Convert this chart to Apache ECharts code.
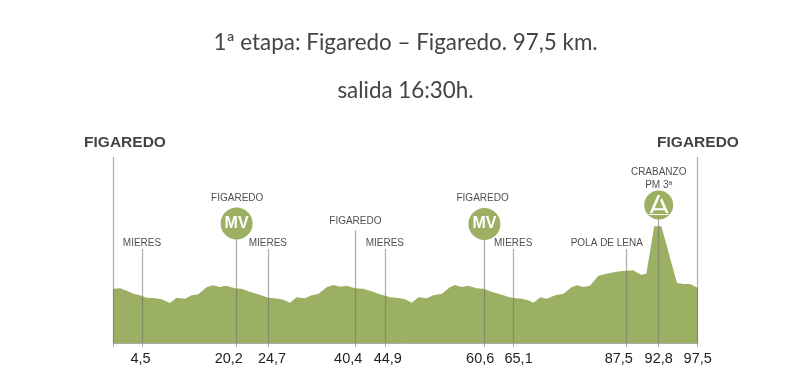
<!DOCTYPE html>
<html>
<head>
<meta charset="utf-8">
<script src="https://cdn.jsdelivr.net/npm/echarts@6/dist/echarts.min.js"></script>
<style>
  html, body { margin: 0; padding: 0; background: #fff; }
  #chart { width: 811px; height: 368px; }
</style>
</head>
<body>
<div id="chart"></div>
<script>
// perfil: distancia tal como esta dibujada y altura relativa (sin escala en el original)
const profileKm = [0, 1.2, 2.3, 3.4, 4.5, 5.6, 6.7, 8.1, 9.5, 10.6, 12, 13.1, 14.2, 15.6, 16.7, 17.8, 18.9, 20.3, 21.4, 22.8, 24.2, 25.9, 27.6, 28.4, 29.5, 30.6, 32, 33.1, 34.2, 35.6, 36.7, 37.9, 39, 40.3, 41.7, 43.1, 44.5, 46.2, 47.6, 48.7, 49.8, 50.9, 52.3, 53.4, 54.8, 56.2, 57, 58.1, 59.2, 60.6, 61.7, 63.1, 64.5, 66.4, 68.1, 69.2, 70.1, 71.2, 72.3, 73.7, 75.1, 76.4, 77.3, 78.4, 79.5, 80.9, 82.8, 84.5, 86.7, 88, 88.9, 90.2, 91.4, 94, 95.1, 96.2, 97.5];
const profileHeight = [54.3, 54.7, 52.3, 49.3, 47.7, 45.3, 45, 43.7, 40, 45.3, 44.3, 47.7, 48.7, 55.7, 57.7, 56, 57.3, 54.7, 54.3, 51.3, 48.7, 45.3, 44.3, 43.3, 40.3, 45.7, 44.7, 47.7, 49, 55.7, 58, 56.3, 57.3, 54.7, 54.3, 51.7, 48.7, 45.7, 45, 43.7, 40.3, 45.7, 44.7, 47.7, 49.3, 56, 58, 56, 57.3, 54.7, 54.3, 51.3, 48.7, 45.3, 44.3, 42.7, 40.3, 45.7, 44.3, 47.7, 49.3, 55.7, 57.7, 56, 57.3, 67.3, 70, 71.7, 72.7, 68.3, 69.3, 116.7, 116.7, 60, 59, 59, 55];

// lineas verticales de cada paso
const passKm = [0, 4.83, 20.5, 25.8, 40.4, 45.3, 61.9, 66.7, 85.6, 90.95, 97.45];
const passTop = [186, 94, 106, 94, 112.7, 94, 106, 94, 94, 125, 186];

// etiquetas del eje km (en el original van algo desplazadas de su linea)
const kmLabelPos = [4.6, 19.3, 26.5, 39.2, 45.8, 61.2, 67.6, 84.3, 90.95, 97.45];
const kmLabels = ['4,5', '20,2', '24,7', '40,4', '44,9', '60,6', '65,1', '87,5', '92,8', '97,5'];

// nombres de los pasos
const placeKm = [4.83, 20.7, 25.8, 40.4, 45.3, 61.6, 66.7, 82.3, 90.95];
const placeHeight = [93.5, 138, 93.5, 115, 93.5, 138, 93.5, 93.5, 151.5];
const placeNames = ['MIERES', 'FIGAREDO', 'MIERES', 'FIGAREDO', 'MIERES', 'FIGAREDO', 'MIERES', 'POLA DE LENA', 'CRABANZO\nPM 3ª'];

// salida y meta
const endKm = [2, 97.5];
const endHeight = [192, 192];
const endNames = ['FIGAREDO', 'FIGAREDO'];

// metas volantes y puerto
const sprintKm = [20.6, 61.9];
const sprintHeight = [119.5, 119];
const climbKm = [90.95];
const climbHeight = [138];

const green = '#9cb063';
const plain = 'Liberation Sans';

const chart = echarts.init(document.getElementById('chart'), null, { renderer: 'canvas' });

const mountain = 'path://M1 20L9 1L11.5 1L4 20ZM20 20L17 20L11.5 7L13 4ZM5 15L15 15L15 17L5 17ZM0 21L20 21L20 22L0 22Z';

chart.setOption({
  animation: false,
  title: [
    {
      text: '1ª etapa: Figaredo – Figaredo. 97,5 km.',
      left: 'center',
      top: 27,
      textStyle: { fontFamily: 'Lato', fontSize: 22.4, fontWeight: 'normal', color: '#444' }
    },
    {
      text: 'salida 16:30h.',
      left: 'center',
      top: 75,
      textStyle: { fontFamily: 'Lato', fontSize: 22.4, fontWeight: 'normal', color: '#444' }
    }
  ],
  // eje y hasta 200 para que quepan los rotulos de salida y meta
  grid: { left: 113, right: 113, top: 143, bottom: 25 },
  xAxis: {
    type: 'value',
    min: 0,
    max: 97.5,
    splitLine: { show: false },
    axisLine: { lineStyle: { color: '#aaa', width: 1 } },
    axisTick: { length: 4, lineStyle: { color: '#aaa' }, customValues: passKm },
    axisLabel: {
      customValues: kmLabelPos,
      formatter: (v) => kmLabels[kmLabelPos.indexOf(v)],
      fontFamily: plain,
      fontSize: 14.5,
      color: '#222',
      margin: 8,
      showMinLabel: true,
      showMaxLabel: true
    }
  },
  yAxis: { type: 'value', min: 0, max: 200, show: false },
  series: [
    {
      name: 'perfil',
      type: 'line',
      data: profileKm.map((km, i) => [km, profileHeight[i]]),
      showSymbol: false,
      lineStyle: { width: 0 },
      areaStyle: { color: green, opacity: 1 },
      silent: true,
      z: 2,
      markLine: {
        silent: true,
        symbol: 'none',
        label: { show: false },
        animation: false,
        lineStyle: { color: 'rgba(110,110,110,0.55)', width: 1.3, type: 'solid' },
        data: passKm.map((km, i) => [{ coord: [km, 0] }, { coord: [km, passTop[i]] }])
      }
    },
    {
      name: 'pasos',
      type: 'scatter',
      symbolSize: 0,
      data: placeKm.map((km, i) => [km, placeHeight[i]]),
      label: {
        show: true,
        position: 'top',
        distance: 0,
        lineHeight: 13,
        fontFamily: plain,
        fontSize: 10,
        color: '#222',
        formatter: (p) => placeNames[p.dataIndex]
      },
      silent: true,
      z: 5
    },
    {
      name: 'extremos',
      type: 'scatter',
      symbolSize: 0,
      data: endKm.map((km, i) => [km, endHeight[i]]),
      label: {
        show: true,
        position: 'top',
        distance: 0,
        fontFamily: plain,
        fontWeight: 'bold',
        fontSize: 15.5,
        color: '#111',
        formatter: (p) => endNames[p.dataIndex]
      },
      silent: true,
      z: 5
    },
    {
      name: 'metas volantes',
      type: 'scatter',
      symbol: 'circle',
      symbolSize: 32,
      data: sprintKm.map((km, i) => [km, sprintHeight[i]]),
      itemStyle: { color: green, opacity: 1 },
      label: {
        show: true,
        position: 'inside',
        formatter: 'MV',
        fontFamily: plain,
        fontWeight: 'bold',
        fontSize: 16,
        color: '#fff'
      },
      silent: true,
      z: 6
    },
    {
      name: 'puerto',
      type: 'scatter',
      symbol: 'circle',
      symbolSize: 29,
      data: climbKm.map((km, i) => [km, climbHeight[i]]),
      itemStyle: { color: green, opacity: 1 },
      silent: true,
      z: 6
    },
    {
      name: 'puerto icono',
      type: 'scatter',
      symbol: mountain,
      symbolSize: 20,
      data: climbKm.map((km, i) => [km, climbHeight[i]]),
      itemStyle: { color: '#fff', opacity: 1 },
      silent: true,
      z: 7
    }
  ]
});
</script>
</body>
</html>
